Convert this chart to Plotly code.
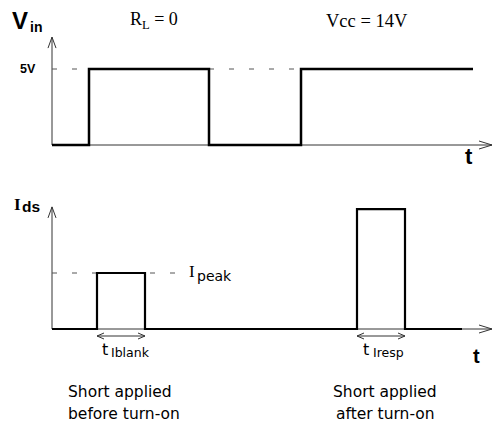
import plotly.graph_objects as go

# ---------------- data ----------------
# time axis in arbitrary units (t = 0 at the vertical axis)
vin_times = [0, 37, 157, 249, 421]      # instants where Vin changes
vin_levels = [0, 5, 0, 5, 5]            # volts
ids_times = [0, 45, 93, 305, 353, 410]  # instants where Ids changes
ids_levels = [0, 1, 0, 2.14, 0, 0]      # in units of I_peak
V_HIGH = 5
I_PEAK = 1
T_AXIS_END = 440
VIN_AXIS_TOP = 7.1
IDS_AXIS_TOP = 2.18

# ---------------- layout helpers ----------------
W, H = 494, 424
X0PX = 52                       # pixel column of t = 0
VIN_BASE_PX, VIN_SCALE = 145, 15.2
IDS_BASE_PX, IDS_SCALE = 329, 56.0

BLACK = "#000000"
AX = "#333333"
DASH = "#555555"
SERIF = "Liberation Serif"
SANS = "Liberation Sans"
ROUND = "DejaVu Sans"


def P(xpx, ypx):
    return xpx / W, 1 - ypx / H


fig = go.Figure()

fig.add_trace(go.Scatter(x=vin_times, y=vin_levels, mode="lines", line_shape="hv",
                         line=dict(color=BLACK, width=2.5), yaxis="y",
                         hoverinfo="skip", showlegend=False))
fig.add_trace(go.Scatter(x=ids_times, y=ids_levels, mode="lines", line_shape="hv",
                         line=dict(color=BLACK, width=2.2), yaxis="y2",
                         hoverinfo="skip", showlegend=False))

shapes = []
# axes
for yref, top in (("y", VIN_AXIS_TOP), ("y2", IDS_AXIS_TOP)):
    shapes.append(dict(type="line", xref="x", yref=yref, x0=0, x1=T_AXIS_END, y0=0, y1=0,
                       line=dict(color=AX, width=1), layer="below"))
    shapes.append(dict(type="line", xref="x", yref=yref, x0=0, x1=0, y0=0, y1=top,
                       line=dict(color=AX, width=1), layer="below"))
    # arrow heads (pixel sized)
    shapes.append(dict(type="path", xref="x", yref=yref, xsizemode="pixel", ysizemode="pixel",
                       xanchor=T_AXIS_END, yanchor=0, path="M -13,4 L 0,0 L -13,-4",
                       line=dict(color=AX, width=1)))
    shapes.append(dict(type="path", xref="x", yref=yref, xsizemode="pixel", ysizemode="pixel",
                       xanchor=0, yanchor=top, path="M -4,-11 L 0,0 L 4,-11",
                       line=dict(color=AX, width=1)))

# dashed reference levels
dash_style = dict(color=DASH, width=1, dash="5px,15px")
shapes.append(dict(type="line", xref="x", yref="y", x0=0, x1=vin_times[1], y0=V_HIGH, y1=V_HIGH,
                   line=dash_style, layer="below"))
shapes.append(dict(type="line", xref="x", yref="y", x0=vin_times[2], x1=vin_times[3], y0=V_HIGH, y1=V_HIGH,
                   line=dash_style, layer="below"))
shapes.append(dict(type="line", xref="x", yref="y2", x0=0, x1=ids_times[1], y0=I_PEAK, y1=I_PEAK,
                   line=dash_style, layer="below"))
shapes.append(dict(type="line", xref="x", yref="y2", x0=ids_times[2] + 5, x1=ids_times[2] + 30,
                   y0=I_PEAK, y1=I_PEAK, line=dash_style, layer="below"))

# double arrows under the current pulses
for a, b in ((ids_times[1], ids_times[2]), (ids_times[3], ids_times[4])):
    shapes.append(dict(type="path", xref="x", yref="y2", xsizemode="pixel", ysizemode="pixel",
                       xanchor=a, yanchor=0, path=f"M 0,-7 L {b - a},-7",
                       line=dict(color=AX, width=1)))
    shapes.append(dict(type="path", xref="x", yref="y2", xsizemode="pixel", ysizemode="pixel",
                       xanchor=a, yanchor=0, path="M 7,-4 L 0,-7 L 7,-10",
                       line=dict(color=AX, width=1)))
    shapes.append(dict(type="path", xref="x", yref="y2", xsizemode="pixel", ysizemode="pixel",
                       xanchor=b, yanchor=0, path="M -7,-4 L 0,-7 L -7,-10",
                       line=dict(color=AX, width=1)))

ann = []


def text(xpx, ypx, s, font, size, anchor="left", bold=False, color=BLACK):
    x, y = P(xpx, ypx)
    ann.append(dict(xref="paper", yref="paper", x=x, y=y, text=(f"<b>{s}</b>" if bold else s),
                    showarrow=False, xanchor=anchor, yanchor="middle", borderpad=0,
                    font=dict(family=font, size=size, color=color)))


# top panel labels
text(11, 20.6, "V", SANS, 24, bold=True)
text(29, 27, "in", SANS, 14, bold=True)
text(19, 68.6, "5V", SANS, 12.5, bold=True)
text(154, 20.7, "R<sub>L</sub> = 0", SERIF, 18, anchor="center")
text(367, 20.7, "Vcc = 14V", SERIF, 18.5, anchor="center")
text(464, 157, "t", SANS, 22, bold=True)

# bottom panel labels
text(13, 204, "I", SERIF, 17, bold=True)
text(21, 206.5, "ds", SANS, 15.5, bold=True)
text(188, 271, "I", SERIF, 17)
text(196, 275.5, "peak", ROUND, 14)
text(101, 349.4, "t", ROUND, 16)
text(110, 352.6, "Iblank", ROUND, 12.5)
text(362, 349.4, "t", ROUND, 16)
text(372, 352.6, "Iresp", ROUND, 12.5)
text(472, 356, "t", SANS, 20, bold=True)

# captions
text(67, 391.6, "Short applied", ROUND, 15.5)
text(67, 413.6, "before turn-on", ROUND, 15.5)
text(385, 391.6, "Short applied", ROUND, 15.5, anchor="center")
text(385, 413.6, "after turn-on", ROUND, 15.5, anchor="center")

fig.update_layout(
    width=W, height=H, margin=dict(l=0, r=0, t=0, b=0),
    paper_bgcolor="white", plot_bgcolor="white",
    xaxis=dict(range=[-X0PX, W - X0PX], visible=False, fixedrange=True),
    yaxis=dict(range=[-(H - VIN_BASE_PX) / VIN_SCALE, VIN_BASE_PX / VIN_SCALE],
               visible=False, fixedrange=True),
    yaxis2=dict(range=[-(H - IDS_BASE_PX) / IDS_SCALE, IDS_BASE_PX / IDS_SCALE],
                overlaying="y", visible=False, fixedrange=True),
    shapes=shapes, annotations=ann, showlegend=False,
)

fig.write_html("out.html", config={"displayModeBar": False},
               post_script="document.body.style.margin='0';document.body.style.padding='0';"
                           "document.body.style.overflow='hidden';")
